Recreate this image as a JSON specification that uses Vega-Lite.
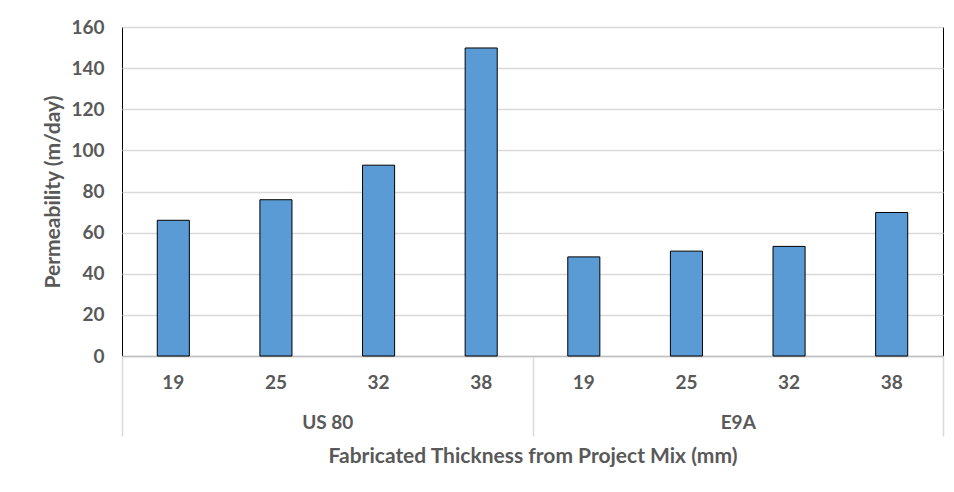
{
  "$schema": "https://vega.github.io/schema/vega-lite/v6.json",
  "width": 821,
  "height": 329,
  "autosize": {"type": "none"},
  "padding": {"left": 122, "top": 27, "right": 11, "bottom": 136},
  "background": "#ffffff",
  "data": {
    "values": [
      {"mix": "US 80|19", "road": "US 80", "thickness": "19", "permeability": 66},
      {"mix": "US 80|25", "road": "US 80", "thickness": "25", "permeability": 76},
      {"mix": "US 80|32", "road": "US 80", "thickness": "32", "permeability": 92.8},
      {"mix": "US 80|38", "road": "US 80", "thickness": "38", "permeability": 149.8},
      {"mix": "E9A|19", "road": "E9A", "thickness": "19", "permeability": 48.2},
      {"mix": "E9A|25", "road": "E9A", "thickness": "25", "permeability": 51},
      {"mix": "E9A|32", "road": "E9A", "thickness": "32", "permeability": 53.3},
      {"mix": "E9A|38", "road": "E9A", "thickness": "38", "permeability": 69.8}
    ]
  },
  "layer": [
    {
      "mark": {"type": "bar", "color": "#5B9BD5", "stroke": "#000000", "strokeWidth": 1},
      "encoding": {
        "x": {
          "field": "mix",
          "type": "nominal",
          "sort": null,
          "scale": {"paddingInner": 0.6875, "paddingOuter": 0.34375},
          "axis": {
            "labelExpr": "split(datum.label, '|')[1]",
            "ticks": false,
            "domain": false,
            "grid": false,
            "labelAngle": 0,
            "labelPadding": 17,
            "title": null
          }
        },
        "y": {
          "field": "permeability",
          "type": "quantitative",
          "scale": {"domain": [0, 160], "nice": false},
          "axis": {
            "values": [0, 20, 40, 60, 80, 100, 120, 140, 160],
            "title": "Permeability (m/day)",
            "titlePadding": 7,
            "ticks": false,
            "domain": false,
            "labelPadding": 18,
            "grid": true
          }
        }
      }
    },
    {
      "mark": {"type": "bar", "opacity": 0},
      "encoding": {
        "x": {
          "field": "road",
          "type": "nominal",
          "sort": null,
          "scale": {"paddingInner": 0, "paddingOuter": 0},
          "axis": {
            "orient": "bottom",
            "offset": 0,
            "tickBand": "extent",
            "tickSize": 80,
            "tickColor": "#d9d9d9",
            "tickWidth": 1.5,
            "domainColor": "#bfbfbf",
            "domainWidth": 1.5,
            "labelAngle": 0,
            "labelPadding": -23,
            "grid": false,
            "title": "Fabricated Thickness from Project Mix (mm)",
            "titlePadding": 9
          }
        },
        "y": {"field": "permeability", "type": "quantitative", "aggregate": "max"}
      }
    }
  ],
  "resolve": {"scale": {"x": "independent"}},
  "config": {
    "font": "Lato",
    "view": {"stroke": "#000000", "strokeWidth": 1},
    "axis": {
      "labelFont": "Lato",
      "labelFontWeight": "bold",
      "labelFontSize": 19,
      "labelColor": "#595959",
      "titleFont": "Lato",
      "titleFontWeight": "bold",
      "titleFontSize": 21,
      "titleColor": "#595959",
      "gridColor": "#d9d9d9",
      "gridWidth": 1.5
    }
  }
}
